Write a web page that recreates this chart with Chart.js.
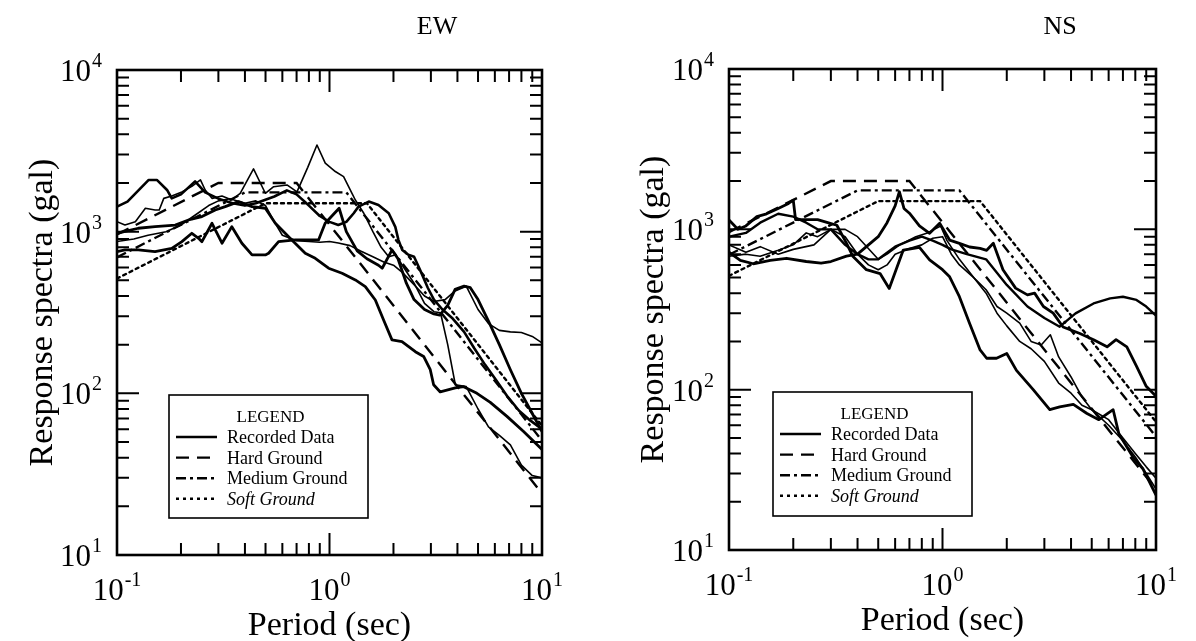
<!DOCTYPE html>
<html><head><meta charset="utf-8">
<script src="https://cdn.jsdelivr.net/npm/chart.js@4.4.0/dist/chart.umd.min.js"></script>
<style>
html,body{margin:0;padding:0;background:#fff;}
#wrap{position:relative;width:1196px;height:641px;overflow:hidden;background:#fff;}
canvas{position:absolute;top:0;}
#c1{left:0;} #c2{left:598px;}
</style></head><body>
<div id="wrap">
<canvas id="c1" width="598" height="641"></canvas>
<canvas id="c2" width="598" height="641"></canvas>
</div>
<script>
// ---- tick labels ----
const xTickValues = [0.1, 1, 10];
const xTickExps = ['-1', '0', '1'];
const yTickValues = [10, 100, 1000, 10000];
const yTickExps = ['1', '2', '3', '4'];
const panelTitles = ['EW', 'NS'];
const xTitle = 'Period (sec)';
const yTitle = 'Response spectra (gal)';
const legendTitle = 'LEGEND';
const legendLabels = ['Recorded Data', 'Hard Ground', 'Medium Ground', 'Soft Ground'];

// ---- design spectra (period s, gal) ----
const hardGround = [[0.1, 961], [0.3, 2000], [0.7, 2000], [10, 24]];
const mediumGround = [[0.1, 694], [0.4, 1750], [1.2, 1750], [10, 51]];
const softGround = [[0.1, 513], [0.5, 1500], [1.5, 1500], [10, 63]];

// ---- recorded data, EW ----
const ewRec1 = [[0.1,977],[0.126,1050],[0.151,1074],[0.188,1099],[0.217,1181],[0.251,1239],[0.29,1361],[0.323,1428],[0.373,1535],[0.432,1428],[0.499,1396],[0.556,1127],[0.642,931],[0.769,735],[0.857,684],[0.99,594],[1.146,553],[1.323,503],[1.474,457],[1.643,378],[1.797,284],[1.968,214],[2.193,209],[2.535,181],[2.773,169],[2.98,140],[3.09,113],[3.32,102],[3.91,108],[4.28,110],[4.94,100],[5.71,88],[6.84,72],[8.19,58],[10,45]];
const ewRec2 = [[0.1,1153],[0.109,1099],[0.122,1153],[0.136,1396],[0.151,1361],[0.158,1361],[0.166,1607],[0.181,1660],[0.202,1762],[0.225,1905],[0.247,2089],[0.26,1811],[0.28,1607],[0.312,1660],[0.347,1570],[0.38,1728],[0.439,2443],[0.499,1728],[0.546,1897],[0.631,1945],[0.703,1763],[0.79,2500],[0.873,3436],[0.955,2655],[1.065,2355],[1.165,2188],[1.276,1728],[1.323,1570],[1.45,1300],[1.6,1000],[1.75,800],[1.9,700],[2.05,720],[2.2,620],[2.5,480],[2.8,360],[3.1,320],[3.33,315],[3.6,200],[3.91,113],[4.4,110],[5.0,80],[5.6,62],[6.3,55],[7.1,48],[8,36],[9,31],[10,30]];
const ewRec3 = [[0.1,752],[0.109,771],[0.126,771],[0.151,752],[0.181,789],[0.202,867],[0.225,977],[0.242,910],[0.251,867],[0.28,1127],[0.312,848],[0.347,1074],[0.387,848],[0.432,718],[0.499,718],[0.517,735],[0.576,867],[0.69,889],[0.888,889],[0.954,1127],[1.11,1396],[1.2,1000],[1.35,760],[1.5,680],[1.7,620],[1.77,594],[1.97,771],[2.1,680],[2.3,480],[2.5,380],[2.8,330],[3.1,310],[3.3,305],[3.6,350],[3.9,440],[4.3,460],[4.6,450],[5.0,380],[5.6,280],[6.3,200],[7.1,140],[8,100],[9,75],[10,58]];
const ewRec4 = [[0.1,870],[0.12,900],[0.14,950],[0.17,1000],[0.2,1100],[0.23,1250],[0.27,1450],[0.3,1550],[0.34,1600],[0.4,1500],[0.45,1550],[0.5,1450],[0.55,1150],[0.6,950],[0.7,880],[0.8,870],[0.9,860],[1.0,870],[1.1,850],[1.25,820],[1.4,760],[1.6,700],[1.8,650],[2.0,620],[2.2,560],[2.5,470],[2.8,400],[3.1,370],[3.5,380],[3.9,430],[4.4,460],[5.0,330],[5.6,270],[6.3,245],[7.1,240],[8,238],[9,225],[10,205]];
const ewRec5 = [[0.1,1428],[0.112,1535],[0.141,2089],[0.154,2089],[0.172,1811],[0.181,1607],[0.2,1700],[0.233,2047],[0.26,1750],[0.3,1600],[0.35,1500],[0.4,1450],[0.45,1500],[0.55,1650],[0.63,1800],[0.7,1700],[0.8,1450],[0.9,1250],[1.0,1150],[1.1,1100],[1.2,1150],[1.3,1300],[1.37,1430],[1.53,1535],[1.7,1460],[1.9,1300],[2.04,1070],[2.11,890],[2.2,770],[2.35,720],[2.5,700],[2.7,560],[2.9,450],[3.1,380],[3.4,330],[3.8,290],[4.3,240],[4.8,190],[5.4,150],[6.1,120],[6.9,95],[7.8,78],[8.8,68],[10,60]];

// ---- recorded data, NS ----
const nsRec1 = [[0.1,1143],[0.11,1000],[0.12,1050],[0.135,1200],[0.15,1250],[0.17,1350],[0.19,1450],[0.2,1520],[0.205,1150],[0.23,1150],[0.26,1150],[0.29,1100],[0.32,1060],[0.355,820],[0.38,680],[0.44,560],[0.51,530],[0.563,428],[0.655,743],[0.78,772],[0.87,645],[1.0,560],[1.08,506],[1.2,380],[1.34,259],[1.5,177],[1.61,157],[1.79,157],[2.0,168],[2.22,132],[2.66,100],[3.18,75],[3.54,78],[4.1,81],[4.75,71],[5.4,65],[6.3,75],[6.7,53],[7.8,38],[8.7,32],[10,22]];
const nsRec2 = [[0.1,720],[0.113,640],[0.13,610],[0.156,640],[0.186,660],[0.23,630],[0.27,615],[0.3,630],[0.355,680],[0.4,700],[0.45,800],[0.5,900],[0.55,1100],[0.6,1400],[0.628,1716],[0.66,1350],[0.7,1260],[0.78,1050],[0.87,944],[0.97,1090],[1.08,857],[1.2,818],[1.34,776],[1.5,760],[1.61,740],[1.73,818],[1.92,560],[2.2,430],[2.5,390],[2.7,400],[2.97,330],[3.3,300],[3.67,246],[4.4,224],[5.1,205],[5.9,185],[6.5,205],[7.3,185],[8.1,140],[9.0,105],[10,91]];
const nsRec3 = [[0.1,900],[0.12,950],[0.14,1100],[0.17,1250],[0.2,1200],[0.23,1100],[0.26,1000],[0.3,1000],[0.35,800],[0.4,700],[0.45,650],[0.5,650],[0.6,780],[0.7,850],[0.8,900],[0.9,850],[1.0,800],[1.1,750],[1.3,700],[1.6,650],[2.0,450],[2.5,330],[3.0,280],[3.54,247],[4.2,299],[5.1,345],[6.1,371],[7.0,380],[8.1,363],[9.0,330],[10,290]];
const nsRec4 = [[0.1,800],[0.12,720],[0.14,780],[0.17,700],[0.2,750],[0.25,800],[0.3,1000],[0.35,1000],[0.4,900],[0.5,650],[0.55,700],[0.63,800],[0.75,900],[0.85,950],[0.98,1050],[1.05,850],[1.2,650],[1.4,500],[1.6,420],[1.8,330],[2.0,300],[2.3,260],[2.6,200],[2.9,190],[3.2,220],[3.5,160],[4.0,120],[4.5,90],[5,75],[6,65],[7,50],[8,40],[9,33],[10,28]];
const nsRec5 = [[0.1,680],[0.12,700],[0.14,680],[0.17,740],[0.2,800],[0.23,950],[0.26,900],[0.3,1000],[0.35,900],[0.4,700],[0.45,600],[0.5,560],[0.55,600],[0.6,700],[0.7,760],[0.8,800],[0.9,880],[1.0,900],[1.1,700],[1.2,600],[1.4,500],[1.6,400],[1.8,300],[2.0,250],[2.3,200],[2.6,180],[3.0,150],[3.5,110],[4.0,95],[4.5,80],[5,75],[6,60],[7,48],[8,38],[9,30],[10,24]];

const SERIF = '"Liberation Serif", "Times New Roman", "DejaVu Serif", serif';
const DASH = { hard: [13, 8], medium: [10, 4, 3, 4], soft: [3, 4] };

function pts(a) { return a.map(p => ({ x: p[0], y: p[1] })); }
function recDs(a, w) {
  return { data: pts(a), borderColor: '#000', borderWidth: w, pointRadius: 0, fill: false, tension: 0, borderJoinStyle: 'round' };
}
function designDs(a, dash, cap) {
  return { data: pts(a), borderColor: '#000', borderWidth: 2.4, borderDash: dash, borderCapStyle: cap || 'butt', pointRadius: 0, fill: false, tension: 0 };
}

function drawPow(ctx, x, y, base, exp, align) {
  ctx.save();
  ctx.fillStyle = '#000';
  ctx.textBaseline = 'alphabetic';
  ctx.textAlign = 'left';
  ctx.font = '31px ' + SERIF;
  const bw = ctx.measureText(base).width;
  ctx.font = '20px ' + SERIF;
  const ew = ctx.measureText(exp).width;
  const tw = bw + ew + 1;
  let x0 = x;
  if (align === 'center') x0 = x - tw / 2;
  else if (align === 'right') x0 = x - tw;
  ctx.font = '31px ' + SERIF;
  ctx.fillText(base, x0, y);
  ctx.font = '20px ' + SERIF;
  ctx.fillText(exp, x0 + bw + 1, y - 14);
  ctx.restore();
}

const framePlugin = {
  id: 'frame',
  afterDraw(chart, args, opts) {
    const ctx = chart.ctx, a = chart.chartArea;
    const xs = chart.scales.x, ys = chart.scales.y;
    ctx.save();
    ctx.strokeStyle = '#000';
    ctx.lineWidth = 2.6;
    ctx.strokeRect(a.left, a.top, a.right - a.left, a.bottom - a.top);
    // ticks
    ctx.lineWidth = 2;
    ctx.beginPath();
    for (let d = 0.1; d < 10; d *= 10) {
      for (let m = 1; m <= 10; m++) {
        const v = d * m;
        if (v > 10.0001) continue;
        const px = xs.getPixelForValue(v);
        const major = (m === 1 || m === 10);
        const L = major ? 22 : 12;
        ctx.moveTo(px, a.bottom); ctx.lineTo(px, a.bottom - L);
        ctx.moveTo(px, a.top); ctx.lineTo(px, a.top + L);
      }
    }
    for (let d = 10; d < 10000; d *= 10) {
      for (let m = 1; m <= 10; m++) {
        const v = d * m;
        const py = ys.getPixelForValue(v);
        const major = (m === 1 || m === 10);
        const L = major ? 22 : 12;
        ctx.moveTo(a.left, py); ctx.lineTo(a.left + L, py);
        ctx.moveTo(a.right, py); ctx.lineTo(a.right - L, py);
      }
    }
    ctx.stroke();
    // tick labels
    xTickValues.forEach((v, i) => drawPow(ctx, xs.getPixelForValue(v), a.bottom + 45, '10', xTickExps[i], 'center'));
    yTickValues.forEach((v, i) => drawPow(ctx, a.left - 15, ys.getPixelForValue(v) + 11, '10', yTickExps[i], 'right'));
    // titles
    ctx.fillStyle = '#000';
    ctx.font = '34px ' + SERIF;
    ctx.textAlign = 'center';
    ctx.textBaseline = 'alphabetic';
    ctx.fillText(xTitle, (a.left + a.right) / 2, a.bottom + 80);
    ctx.save();
    ctx.translate(opts.yTitleX, (a.top + a.bottom) / 2);
    ctx.rotate(-Math.PI / 2);
    ctx.fillText(yTitle, 0, 0);
    ctx.restore();
    ctx.font = '26px ' + SERIF;
    ctx.fillText(opts.title, opts.titleX, 34);
    // legend
    const L = opts.legend;
    ctx.lineWidth = 1.6;
    ctx.strokeRect(L.x, L.y, L.w, L.h);
    ctx.font = '17px ' + SERIF;
    ctx.textAlign = 'center';
    ctx.fillText(legendTitle, L.x + L.w / 2 + 2, L.y + 27);
    const dashes = [[], DASH.hard, DASH.medium, DASH.soft];
    const widths = [2.6, 2.4, 2.4, 2.4];
    legendLabels.forEach((t, i) => {
      const yy = L.y + 42 + i * 20.6;
      ctx.save();
      ctx.setLineDash(dashes[i]);
      ctx.lineWidth = widths[i];
      ctx.beginPath();
      ctx.moveTo(L.x + 7, yy); ctx.lineTo(L.x + 48, yy);
      ctx.stroke();
      ctx.restore();
      ctx.textAlign = 'left';
      ctx.font = (i === 3 ? 'italic ' : '') + '18px ' + SERIF;
      ctx.fillText(t, L.x + 58, yy + 6);
    });
    ctx.restore();
  }
};

function makeChart(id, recs, widths, pad, opts) {
  const datasets = recs.map((r, i) => recDs(r, widths[i])).concat([
    designDs(hardGround, DASH.hard),
    designDs(mediumGround, DASH.medium),
    designDs(softGround, DASH.soft, 'round')
  ]);
  return new Chart(document.getElementById(id), {
    type: 'line',
    data: { datasets },
    options: {
      responsive: false,
      animation: false,
      devicePixelRatio: 1,
      layout: { padding: pad },
      plugins: { legend: { display: false }, tooltip: { enabled: false }, frame: opts },
      scales: {
        x: { type: 'logarithmic', min: 0.1, max: 10, display: false },
        y: { type: 'logarithmic', min: 10, max: 10000, display: false }
      }
    },
    plugins: [framePlugin]
  });
}

makeChart('c1', [ewRec1, ewRec2, ewRec3, ewRec4, ewRec5], [2.8, 1.6, 2.8, 1.6, 2.6],
  { left: 117, right: 56, top: 70, bottom: 86 },
  { title: panelTitles[0], titleX: 437, yTitleX: 52, legend: { x: 169, y: 395, w: 199, h: 123 } });
makeChart('c2', [nsRec1, nsRec2, nsRec3, nsRec4, nsRec5], [2.8, 2.8, 2.4, 1.6, 1.6],
  { left: 131, right: 40, top: 69, bottom: 91 },
  { title: panelTitles[1], titleX: 462, yTitleX: 65, legend: { x: 175, y: 392, w: 199, h: 124 } });
</script>
</body></html>
